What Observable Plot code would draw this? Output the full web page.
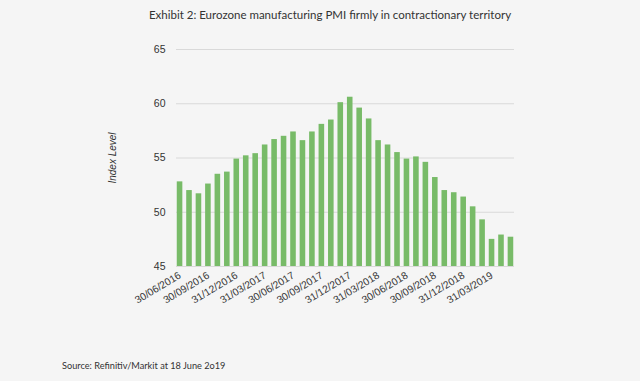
<!DOCTYPE html>
<html>
<head>
<meta charset="utf-8">
<script src="https://cdn.jsdelivr.net/npm/d3@7"></script>
<script src="https://cdn.jsdelivr.net/npm/@observablehq/plot@0.6"></script>
<style>
  html, body { margin: 0; padding: 0; background: #f5f5f5; }
  #wrap { position: relative; width: 640px; height: 381px; overflow: hidden; background: #f5f5f5; }
  #title { position: absolute; left: 0; width: 640px; top: 8px; text-align: center; padding-left: 20px; box-sizing: border-box;
           font-family: Lato, sans-serif; font-size: 11.5px; color: #333; }
  #caption { position: absolute; left: 62px; top: 360px; font-family: Lato, sans-serif; font-size: 9.2px; color: #333; }
  #chart { position: absolute; left: 0; top: 0; }
</style>
</head>
<body>
<div id="wrap">
  <div id="chart"></div>
  <div id="title">Exhibit 2: Eurozone manufacturing PMI firmly in contractionary territory</div>
  <div id="caption">Source: Refinitiv/Markit at 18 June 2o19</div>
</div>
<script>
const months = [
  "30/06/2016","31/07/2016","31/08/2016","30/09/2016","31/10/2016","30/11/2016",
  "31/12/2016","31/01/2017","28/02/2017","31/03/2017","30/04/2017","31/05/2017",
  "30/06/2017","31/07/2017","31/08/2017","30/09/2017","31/10/2017","30/11/2017",
  "31/12/2017","31/01/2018","28/02/2018","31/03/2018","30/04/2018","31/05/2018",
  "30/06/2018","31/07/2018","31/08/2018","30/09/2018","31/10/2018","30/11/2018",
  "31/12/2018","31/01/2019","28/02/2019","31/03/2019","30/04/2019","31/05/2019"
];
const pmi = [
  52.8, 52.0, 51.7, 52.6, 53.5, 53.7,
  54.9, 55.2, 55.4, 56.2, 56.7, 57.0,
  57.4, 56.6, 57.4, 58.1, 58.5, 60.1,
  60.6, 59.6, 58.6, 56.6, 56.2, 55.5,
  54.9, 55.1, 54.6, 53.2, 52.0, 51.8,
  51.4, 50.5, 49.3, 47.5, 47.9, 47.7
];
const xTicks = [
  "30/06/2016","30/09/2016","31/12/2016","31/03/2017","30/06/2017","30/09/2017",
  "31/12/2017","31/03/2018","30/06/2018","30/09/2018","31/12/2018","31/03/2019"
];
const yTicks = [45, 50, 55, 60, 65];

const data = months.map((m, i) => ({month: m, value: pmi[i]}));

const chart = Plot.plot({
  width: 640,
  height: 381,
  marginLeft: 176,
  marginRight: 126,
  marginTop: 49,
  marginBottom: 115,
  style: {background: "transparent", fontFamily: "'Liberation Sans', Arial, sans-serif", fontSize: "10px", color: "#333"},
  x: {domain: months, paddingInner: 0.41, paddingOuter: 0.08, round: false, label: null},
  y: {domain: [45, 65], label: null},
  marks: [
    Plot.gridY(yTicks, {stroke: "#d9d9d9", strokeOpacity: 1, strokeWidth: 1}),
    Plot.barY(data, {x: "month", y1: 45, y2: "value", fill: "#78bb68"}),
    Plot.axisY(yTicks, {tickSize: 0, tickPadding: 11, fontSize: 10.5, label: null}),
    Plot.axisX(xTicks, {tickSize: 0, tickPadding: 8, tickRotate: -31, fontSize: 10.3, label: null}),
    Plot.text(["Index Level"], {frameAnchor: "left", textAnchor: "middle", dx: -64, rotate: -90, fontStyle: "italic", fontSize: 10, fill: "#333"})
  ]
});
document.getElementById("chart").appendChild(chart);
</script>
</body>
</html>
